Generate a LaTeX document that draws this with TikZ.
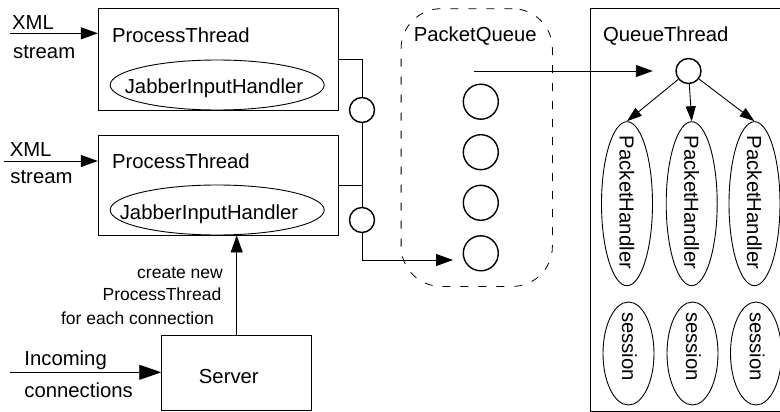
\documentclass[tikz,border=0pt]{standalone}
\usepackage{fontspec}
\setmainfont{Liberation Sans}
\usetikzlibrary{shapes.geometric,arrows.meta}

\begin{document}
\begin{tikzpicture}[x=1pt, y=-1pt, line width=0.9pt,
    font=\fontsize{20.3}{24}\selectfont,
    txt/.style={inner sep=0pt},
    note/.style={inner sep=0pt, font=\fontsize{17.5}{21}\selectfont},
    box/.style={draw, rectangle, inner sep=0pt},
    oval/.style={draw, ellipse, inner sep=0pt},
    port/.style={draw, circle, line width=1.4pt, minimum size=25pt, inner sep=0pt},
    slot/.style={draw, circle, line width=1.4pt, minimum size=35pt, inner sep=0pt},
    arr/.style={-{Triangle[length=17pt, width=12pt]}},
    bigarr/.style={-{Triangle[length=22pt, width=15pt]}},
    smallarr/.style={-{Triangle[length=15pt, width=10pt]}}]
    \useasboundingbox (0,0) rectangle (780,412);
    \clip (0,0) rectangle (780,412);
    \node[box, minimum width=240pt, minimum height=101.7pt] (pt1) at (218.3,59.2) {};
    \node[box, minimum width=240pt, minimum height=100pt] (pt2) at (218.3,185) {};
    \node[txt, anchor=base west] (pt1lbl) at (111.7,42.3) {ProcessThread};
    \node[txt, anchor=base west] (pt2lbl) at (111.7,168.3) {ProcessThread};
    \node[oval, minimum width=214pt, minimum height=50pt] (jih1) at (217.2,85) {};
    \node[oval, minimum width=214pt, minimum height=50pt] (jih2) at (217.2,210) {};
    \node[txt, anchor=base] (jih1lbl) at (214,93.3) {JabberInputHandler};
    \node[txt, anchor=base] (jih2lbl) at (209,219.3) {JabberInputHandler};
    % incoming XML streams
    \coordinate (xml1) at (10,33.3);
    \coordinate (xml2) at (4,161);
    \draw[arr] (xml1) -- (xml1 -| pt1.west);
    \draw[arr] (xml2) -- (xml2 -| pt2.west);
    \node[txt, anchor=base west] (xml1top) at (11.7,29.3) {XML};
    \node[txt, anchor=base west] (xml1bot) at (12.7,58.3) {stream};
    \node[txt, anchor=base west] (xml2top) at (9.3,156.7) {XML};
    \node[txt, anchor=base west] (xml2bot) at (10,183.3) {stream};
    % server
    \node[box, minimum width=150pt, minimum height=75pt] (server) at (236.7,373.1) {};
    \node[txt, anchor=base west] (serverlbl) at (198.5,383.3) {Server};
    \coordinate (inc) at (10,372.3);
    \draw[bigarr] (inc) -- (inc -| server.west);
    \node[txt, anchor=base west] (inctop) at (24,365) {Incoming};
    \node[txt, anchor=base west] (incbot) at (24,397.7) {connections};
    \draw[arr] (server.north) -- (server.north |- pt2.south);
    \node[note, anchor=base east] (create1) at (223.3,278.3) {create new};
    \node[note, anchor=base east] (create2) at (221.7,300.7) {ProcessThread};
    \node[note, anchor=base east] (create3) at (214.3,324) {for each connection};
    % packet queue
    \node[draw, dash pattern=on 8pt off 10pt, line width=0.8pt, rounded corners=40pt,
        minimum width=151.3pt, minimum height=277.7pt, anchor=north west] (pq) at (400.7,8.3) {};
    \node[txt, anchor=base west] (pqlbl) at (413.3,41.7) {PacketQueue};
    \foreach \i/\y in {1/101.7,2/152.2,3/202.8,4/253.3}
        \node[slot] (q\i) at (480.8,\y) {};
    \node[port] (p1) at (362,110) {};
    \node[port] (p2) at (362,220) {};
    \coordinate (qin) at (453,260);
    \draw (pt1.east) -| (p1);
    \draw (pt2.east) -- (pt2.east -| p1);
    \draw (p1) -- (p2);
    \draw[arr] (p2) |- (qin);
    % queue thread
    \node[box, minimum width=250pt, minimum height=402.2pt, anchor=north west] (qt) at (589.5,8.3) {};
    \node[txt, anchor=base west] (qtlbl) at (602.7,41.7) {QueueThread};
    \node[port] (qc) at (688.5,71) {};
    \coordinate (qout) at (474,71);
    \draw[arr, shorten >=22.5pt] (qout) -- (qc);
    \foreach \i/\x in {1/627,2/691.7,3/754.5} {
        \node[oval, minimum width=51pt, minimum height=164pt] (ph\i) at (\x,203.7) {};
        \node[txt, rotate=-90] (ph\i lbl) at (\x,202.5) {PacketHandler};
        \draw[smallarr] (qc) -- (ph\i.north);
    }
    \foreach \i/\x in {1/628.5,2/692.5,3/756} {
        \node[oval, minimum width=51pt, minimum height=103pt] (ss\i) at (\x,353.5) {};
        \node[txt, rotate=-90] (ss\i lbl) at (\x+1,346.5) {session};
    }
\end{tikzpicture}
\end{document}
